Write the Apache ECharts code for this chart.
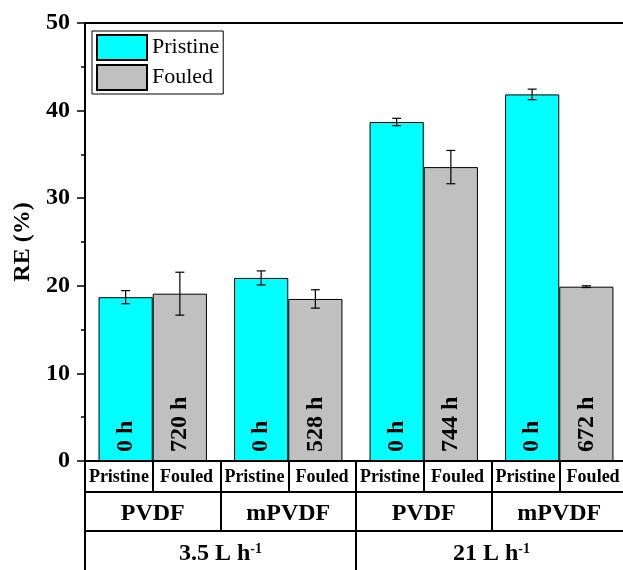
<!DOCTYPE html>
<html>
<head>
<meta charset="utf-8">
<script src="https://cdn.jsdelivr.net/npm/echarts@6/dist/echarts.min.js"></script>
<style>html,body{margin:0;padding:0;background:#fff;}#chart{width:623px;height:570px;}</style>
</head>
<body>
<div id="chart"></div>
<script>
// ---- data ----
var groupKeys = ['g1', 'g2', 'g3', 'g4'];
var conditionLabels = ['Pristine', 'Fouled', 'Pristine', 'Fouled', 'Pristine', 'Fouled', 'Pristine', 'Fouled'];
var materialLabels = ['PVDF', 'mPVDF', 'PVDF', 'mPVDF'];
var flowLabels = ['3.5 L h', '21 L h'];
var seriesNames = ['Pristine', 'Fouled'];
var pristine = [18.7, 20.9, 38.7, 41.85];
var pristineErr = [0.75, 0.8, 0.42, 0.6];
var fouled = [19.1, 18.5, 33.55, 19.9];
var fouledErr = [2.45, 1.05, 1.9, 0.1];
var pristineHours = ['0 h', '0 h', '0 h', '0 h'];
var fouledHours = ['720 h', '528 h', '744 h', '672 h'];
var yTicks = [0, 10, 20, 30, 40, 50];

var FONT = 'Liberation Serif';
var chart = echarts.init(document.getElementById('chart'), null, {renderer: 'canvas'});

function errData(vals, errs) {
  return vals.map(function (v, i) { return [i, v, errs[i]]; });
}
function errRender(side) {
  return function (params, api) {
    var xi = api.value(0), y = api.value(1), e = api.value(2);
    var bw = api.size([1, 0])[0];
    var off = side * bw * 0.2;
    var top = api.coord([xi, y + e]);
    var bot = api.coord([xi, y - e]);
    var x = top[0] + off;
    var cap = 4.5;
    var st = {stroke: '#000', lineWidth: 1.2};
    return {
      type: 'group',
      children: [
        {type: 'line', shape: {x1: x, y1: top[1], x2: x, y2: bot[1]}, style: st},
        {type: 'line', shape: {x1: x - cap, y1: top[1], x2: x + cap, y2: top[1]}, style: st},
        {type: 'line', shape: {x1: x - cap, y1: bot[1], x2: x + cap, y2: bot[1]}, style: st}
      ]
    };
  };
}

var barLabel = function (arr) {
  return {
    show: true,
    position: 'insideBottom',
    distance: 9,
    rotate: 90,
    align: 'left',
    verticalAlign: 'middle',
    fontFamily: FONT,
    fontWeight: 'bold',
    fontSize: 24,
    color: '#000',
    formatter: function (p) { return arr[p.dataIndex]; }
  };
};

var tickStyle = {color: '#000', width: 2};

var option = {
  animation: false,
  backgroundColor: '#fff',
  grid: {left: 85, top: 23, width: 542, height: 438, outerBoundsMode: 'none', containLabel: false,
    show: true, borderColor: '#000', borderWidth: 2, backgroundColor: 'transparent'},
  legend: {
    data: seriesNames,
    orient: 'vertical',
    left: 92, top: 31,
    icon: 'rect',
    itemWidth: 50, itemHeight: 25, itemGap: 3,
    padding: [3, 4, 3, 4],
    borderColor: '#000', borderWidth: 1,
    backgroundColor: '#fff',
    textStyle: {fontFamily: FONT, fontSize: 22, color: '#000'}
  },
  xAxis: [
    {
      type: 'category', data: groupKeys, gridIndex: 0,
      axisLine: {show: true, lineStyle: {color: '#000', width: 2}},
      axisTick: {show: false}, axisLabel: {show: false}, splitLine: {show: false}
    },
    {
      type: 'category', data: conditionLabels, gridIndex: 0, position: 'bottom', offset: 0,
      axisLine: {show: false},
      axisTick: {show: true, inside: false, length: 31, interval: 0, lineStyle: tickStyle},
      axisLabel: {interval: 0, margin: 7, fontFamily: FONT, fontWeight: 'bold', fontSize: 18, color: '#000'},
      splitLine: {show: false}
    },
    {
      type: 'category', data: [0, 1, 2, 3], gridIndex: 0, position: 'bottom', offset: 31,
      axisLine: {show: true, onZero: false, lineStyle: {color: '#000', width: 2}},
      axisTick: {show: true, inside: false, length: 39, interval: 0, lineStyle: tickStyle},
      axisLabel: {interval: 0, margin: 10, fontFamily: FONT, fontWeight: 'bold', fontSize: 24, color: '#000',
        formatter: function (v, i) { return materialLabels[i]; }},
      splitLine: {show: false}
    },
    {
      type: 'category', data: [0, 1], gridIndex: 0, position: 'bottom', offset: 70,
      axisLine: {show: true, onZero: false, lineStyle: {color: '#000', width: 2}},
      axisTick: {show: true, inside: false, length: 45, interval: 0, lineStyle: tickStyle},
      axisLabel: {interval: 0, margin: 11, fontFamily: FONT, fontWeight: 'bold', fontSize: 24, color: '#000',
        formatter: function (v, i) { return '{m|' + flowLabels[i] + '}{s|-1}'; },
        rich: {
          m: {fontFamily: FONT, fontWeight: 'bold', fontSize: 24, color: '#000'},
          s: {fontFamily: FONT, fontWeight: 'bold', fontSize: 14, color: '#000', verticalAlign: 'top', padding: [0, 0, 8, 0]}
        }},
      splitLine: {show: false}
    }
  ],
  yAxis: {
    type: 'value', min: yTicks[0], max: yTicks[yTicks.length - 1], interval: 10,
    name: 'RE (%)', nameLocation: 'middle', nameGap: 50, nameRotate: 90,
    nameTextStyle: {fontFamily: FONT, fontWeight: 'bold', fontSize: 24, color: '#000'},
    axisLine: {show: true, lineStyle: {color: '#000', width: 2}},
    axisTick: {show: true, inside: false, length: 8, lineStyle: {color: '#000', width: 1.5}},
    minorTick: {show: true, splitNumber: 2, length: 4, lineStyle: {color: '#000', width: 1.5}},
    axisLabel: {margin: 15, fontFamily: FONT, fontWeight: 'bold', fontSize: 24, color: '#000'},
    splitLine: {show: false}
  },
  series: [
    {
      name: seriesNames[0], type: 'bar', xAxisIndex: 0, data: pristine,
      barGap: '0%', barCategoryGap: '20%',
      itemStyle: {color: '#00FFFF', borderColor: '#000', borderWidth: 1},
      label: barLabel(pristineHours), z: 2
    },
    {
      name: seriesNames[1], type: 'bar', xAxisIndex: 0, data: fouled,
      barGap: '0%', barCategoryGap: '20%',
      itemStyle: {color: '#C0C0C0', borderColor: '#000', borderWidth: 1},
      label: barLabel(fouledHours), z: 2
    },
    {
      type: 'custom', xAxisIndex: 0, data: errData(pristine, pristineErr),
      renderItem: errRender(-1), z: 5, silent: true
    },
    {
      type: 'custom', xAxisIndex: 0, data: errData(fouled, fouledErr),
      renderItem: errRender(1), z: 5, silent: true
    }
  ]
};
chart.setOption(option);
</script>
</body>
</html>
